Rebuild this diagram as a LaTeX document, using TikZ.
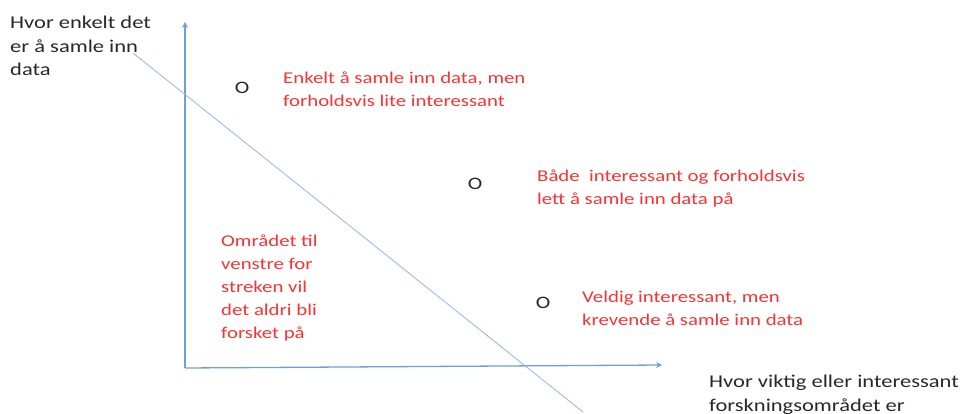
\documentclass[tikz,border=0pt]{standalone}
\usepackage{fontspec}
\setmainfont{Carlito}
\newfontfamily\labelfont[FakeStretch=1.25]{Carlito}
\newfontfamily\notefont[FakeStretch=1.26]{Carlito}
\usetikzlibrary{arrows.meta}
\definecolor{axisblue}{RGB}{110,160,215}
\definecolor{notered}{RGB}{250,50,50}
\definecolor{labelgray}{RGB}{40,40,40}
\begin{document}
\begin{tikzpicture}[x=1pt,y=-1pt,
  axis/.style={draw=axisblue,line width=1.3pt},
  axisarrow/.style={axis,-{Stealth[length=6pt,width=6pt]}},
  guide/.style={draw=axisblue!70,line width=0.9pt},
  axislabel/.style={anchor=north west,inner sep=0pt,align=left,text=labelgray,
    font=\labelfont\fontsize{18}{23.5}\selectfont},
  note/.style={anchor=north west,inner sep=0pt,align=left,text=notered,
    font=\notefont\fontsize{16.5}{22.8}\selectfont},
  marker/.style={inner sep=0pt,text=labelgray,font=\labelfont\fontsize{17.5}{17.5}\selectfont}]
\useasboundingbox (0,0) rectangle (965,414);
% axes
\coordinate (origin) at (185,368);
\coordinate (ytop) at (185,22);
\coordinate (xend) at (662,365);
\draw[axisarrow] (origin) -- (ytop);
\draw[axisarrow] (origin) -- (xend);
% dividing line
\coordinate (d1) at (133,53);
\coordinate (d2) at (583,412);
\draw[guide] (d1) -- (d2);
% axis labels
\node[axislabel] (ylabel) at (10,16) {Hvor enkelt det\\er å samle inn\\data};
\node[axislabel] (xlabel) at (709,375) {Hvor viktig eller interessant\\forskningsområdet er};
% points
\node[marker] (p1) at (242,88) {O};
\node[marker] (p2) at (475,184) {O};
\node[marker] (p3) at (543,303) {O};
% notes
\node[note] (n1) at (283,71.5) {Enkelt å samle inn data, men\\forholdsvis lite interessant};
\node[note] (n2) at (537,169.5) {Både~ interessant og forholdsvis\\lett å samle inn data på};
\node[note] (n3) at (221,235) {Området til\\venstre for\\streken vil\\det aldri bli\\forsket på};
\node[note] (n4) at (582,291) {Veldig interessant, men\\krevende å samle inn data};
\end{tikzpicture}
\end{document}
